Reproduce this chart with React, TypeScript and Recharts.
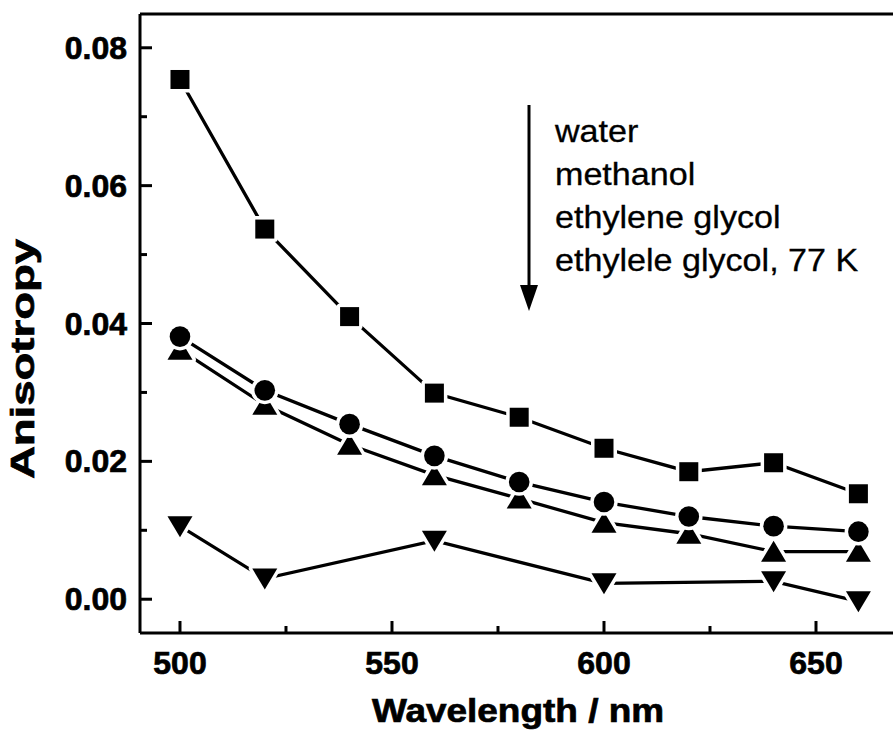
import React from "react";
import { LineChart, Line, XAxis, YAxis, ReferenceLine } from "recharts";

// wavelengths (nm) shared by the first three solvents
const wavelengths = [500, 520, 540, 560, 580, 600, 620, 640, 660];
const water = [0.0754, 0.0537, 0.041, 0.0299, 0.0264, 0.0219, 0.0185, 0.0198, 0.0153];
const methanol = [0.0381, 0.0303, 0.0254, 0.0208, 0.017, 0.0141, 0.012, 0.0106, 0.0098];
const ethyleneGlycol = [0.0362, 0.0282, 0.0224, 0.018, 0.0146, 0.0111, 0.0095, 0.0069, 0.0069];
// 77 K series was not measured at 540 and 580 nm
const glycol77KWavelengths = [500, 520, 560, 600, 640, 660];
const glycol77K = [0.0106, 0.003, 0.0085, 0.0023, 0.0026, -0.0003];

const xTicks = [500, 525, 550, 575, 600, 625, 650];
const yTicks = [0, 0.01, 0.02, 0.03, 0.04, 0.05, 0.06, 0.07, 0.08];
const legendLines = ["water", "methanol", "ethylene glycol", "ethylele glycol, 77 K"];

const xDomain = [490.57, 668.16];
const yDomain = [-0.0049, 0.0849];

const W = 893;
const H = 739;
const FONT = "'Liberation Sans', Arial, Helvetica, sans-serif";

const toPoints = (xs: number[], ys: number[]) => xs.map((x, i) => ({ x, y: ys[i] }));

const waterData = toPoints(wavelengths, water);
const methanolData = toPoints(wavelengths, methanol);
const glycolData = toPoints(wavelengths, ethyleneGlycol);
const glycol77Data = toPoints(glycol77KWavelengths, glycol77K);

// white outline so the connecting lines stop short of each marker
const halo = { stroke: "#fff", strokeWidth: 7, paintOrder: "stroke" as const, strokeLinejoin: "round" as const };

const SquareDot = ({ cx, cy }: any) => (
  <rect x={cx - 9.5} y={cy - 9.5} width={19} height={19} fill="#000" {...halo} />
);
const CircleDot = ({ cx, cy }: any) => <circle cx={cx} cy={cy} r={10.3} fill="#000" {...halo} />;
const UpDot = ({ cx, cy }: any) => (
  <polygon points={`${cx},${cy - 11} ${cx - 12.5},${cy + 10} ${cx + 12.5},${cy + 10}`} fill="#000" {...halo} />
);
const DownDot = ({ cx, cy }: any) => (
  <polygon points={`${cx},${cy + 11} ${cx - 12.5},${cy - 10} ${cx + 12.5},${cy - 10}`} fill="#000" {...halo} />
);

const boldText = { fontFamily: FONT, fontWeight: 700, fill: "#000", stroke: "#000", strokeWidth: 0.7 };

const XTick = (props: any) => {
  const { x, y, payload } = props;
  const major = payload.value % 50 === 0;
  return (
    <g>
      <line x1={x} x2={x} y1={y} y2={y - (major ? 12 : 7)} stroke="#000" strokeWidth={3} />
      {major && (
        <text x={x} y={y + 41} textAnchor="middle" fontSize={32} {...boldText}>
          {payload.value}
        </text>
      )}
    </g>
  );
};

const YTick = (props: any) => {
  const { x, y, payload } = props;
  const major = Math.round(payload.value * 100) % 2 === 0;
  return (
    <g>
      <line x1={x} x2={x + (major ? 12 : 7)} y1={y} y2={y} stroke="#000" strokeWidth={3} />
      {major && (
        <text x={x - 13} y={y + 11} textAnchor="end" fontSize={32} {...boldText}>
          {payload.value.toFixed(2)}
        </text>
      )}
    </g>
  );
};

const lineStyle = { stroke: "#000", strokeWidth: 3.3 };

export default function App() {
  return (
    <div style={{ position: "absolute", left: 0, top: 0, width: W, height: H, background: "#fff" }}>
      <LineChart width={W} height={H} margin={{ top: 14, right: 0, bottom: 6, left: 0 }}>
        <XAxis
          dataKey="x"
          type="number"
          domain={xDomain}
          ticks={xTicks}
          allowDataOverflow
          height={100}
          tickSize={0}
          tickMargin={0}
          tickLine={false}
          tick={<XTick />}
          interval={0}
          axisLine={{ stroke: "#000", strokeWidth: 3 }}
        />
        <YAxis
          type="number"
          domain={yDomain}
          ticks={yTicks}
          allowDataOverflow
          width={140}
          tickSize={0}
          tickMargin={0}
          tickLine={false}
          tick={<YTick />}
          interval={0}
          axisLine={{ stroke: "#000", strokeWidth: 3 }}
        />
        {/* top frame line */}
        <ReferenceLine y={yDomain[1]} stroke="#000" strokeWidth={3} ifOverflow="visible" />
        <Line data={glycol77Data} dataKey="y" name="ethylele glycol, 77 K" {...lineStyle} isAnimationActive={false}
          dot={(p: any) => <DownDot key={`d-${p.index}`} cx={p.cx} cy={p.cy} />} />
        <Line data={glycolData} dataKey="y" name="ethylene glycol" {...lineStyle} isAnimationActive={false}
          dot={(p: any) => <UpDot key={`u-${p.index}`} cx={p.cx} cy={p.cy} />} />
        <Line data={methanolData} dataKey="y" name="methanol" {...lineStyle} isAnimationActive={false}
          dot={(p: any) => <CircleDot key={`c-${p.index}`} cx={p.cx} cy={p.cy} />} />
        <Line data={waterData} dataKey="y" name="water" {...lineStyle} isAnimationActive={false}
          dot={(p: any) => <SquareDot key={`s-${p.index}`} cx={p.cx} cy={p.cy} />} />
      </LineChart>
      <svg width={W} height={H} style={{ position: "absolute", left: 0, top: 0, pointerEvents: "none" }}>
        {/* solvent order arrow */}
        <line x1={529} x2={529} y1={105} y2={290} stroke="#000" strokeWidth={3} />
        <polygon points="520,285 538,285 529,311" fill="#000" />
        {legendLines.map((t, i) => (
          <g key={t} transform={`translate(555, ${141.7 + i * 43}) scale(1.1, 1)`}>
            <text x={0} y={0} fontFamily={FONT} fontSize={31} fill="#000" stroke="#000" strokeWidth={0.3}>{t}</text>
          </g>
        ))}
        <g transform="translate(518, 722) scale(1.12, 1)">
          <text x={0} y={0} textAnchor="middle" fontSize={33} {...boldText}>
            Wavelength / nm
          </text>
        </g>
        <g transform="translate(34, 359) rotate(-90) scale(1.38, 1)">
          <text x={0} y={0} textAnchor="middle" fontSize={33} {...boldText}>
            Anisotropy
          </text>
        </g>
      </svg>
    </div>
  );
}
